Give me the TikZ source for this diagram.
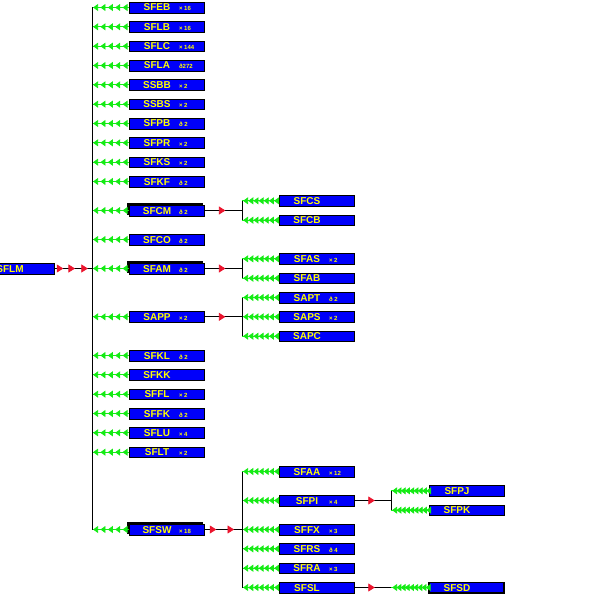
\documentclass[tikz,border=0pt]{standalone}
\usepackage{fontspec}
\setmainfont{Liberation Sans}
\usetikzlibrary{arrows.meta,decorations.markings,shadows}
\definecolor{callblue}{RGB}{0,0,250}
\definecolor{callyellow}{RGB}{255,255,0}
\definecolor{callgreen}{RGB}{20,235,20}
\definecolor{callred}{RGB}{235,20,45}
\newcommand{\rtn}[2]{\makebox[44pt]{#1}\makebox[19pt][l]{\fontsize{6}{6}\selectfont#2}}
\tikzset{
  routine/.style={draw=black, fill=callblue, text=callyellow, minimum width=75pt,
    minimum height=10.5pt, inner sep=0pt, text height=7pt, text depth=0pt,
    font=\bfseries\fontsize{10}{10}\selectfont},
  stacked/.style={copy shadow={shadow xshift=-2pt, shadow yshift=2pt, fill=black, draw=black}},
  trunk/.style={draw=black, line width=0.8pt},
  feed/.style 2 args={draw=callgreen, line width=0.8pt, postaction={decorate},
    decoration={markings, mark=between positions #1 and 1 step #2 with
      {\arrow{Triangle[length=5pt,width=7pt,color=callgreen,fill=callgreen]}}}},
  /pgf/decoration/redtip/.style={mark=at position #1 with
    {\arrow{Triangle[length=6.5pt,width=8pt,color=callred,fill=callred]}}},
  onecall/.style={trunk, postaction={decorate},
    decoration={markings, redtip=0.56}},
  twocalls/.style={trunk, postaction={decorate},
    decoration={markings, redtip=0.32, redtip=0.79}},
  threecalls/.style={trunk, postaction={decorate},
    decoration={markings, redtip=0.24, redtip=0.55, redtip=0.89}},
}
\begin{document}
\begin{tikzpicture}[x=1pt, y=-19.333pt]
  \useasboundingbox (0,-0.388) rectangle (591,30.543);
  \coordinate (c1) at (92,0);
  \coordinate (c2) at (242,0);
  \coordinate (c3) at (391,0);
  % caller
  \node[routine] (SFLM) at (16.5,13.5) {\hspace*{6pt}\rtn{SFLM}{}};
  % first level
  \foreach \n/\r/\a in {SFEB/0/× 16, SFLB/1/× 16, SFLC/2/× 144, SFLA/3/ð272,
      SSBB/4/× 2, SSBS/5/× 2, SFPB/6/ð 2, SFPR/7/× 2, SFKS/8/× 2, SFKF/9/ð 2,
      SFCO/12/ð 2, SAPP/16/× 2, SFKL/18/ð 2, SFKK/19/{}, SFFL/20/× 2,
      SFFK/21/ð 2, SFLU/22/× 4, SFLT/23/× 2} {
    \node[routine] (\n) at (166.5,\r) {\rtn{\n}{\a}};
  }
  \node[routine, stacked] (SFCM) at (166.5,10.5) {\rtn{SFCM}{ð 2}};
  \node[routine, stacked] (SFAM) at (166.5,13.5) {\rtn{SFAM}{ð 2}};
  \node[routine, stacked] (SFSW) at (166.5,27) {\rtn{SFSW}{× 18}};
  \foreach \n in {SFEB,SFLB,SFLC,SFLA,SSBB,SSBS,SFPB,SFPR,SFKS,SFKF,SFCM,SFCO,
      SFAM,SAPP,SFKL,SFKK,SFFL,SFFK,SFLU,SFLT,SFSW} {
    \draw[feed={0.17}{0.2}] (\n.west) -- (\n -| c1);
  }
  \draw[threecalls] (SFLM.east) -- (SFLM -| c1);
  \draw[trunk] (SFEB -| c1) -- (SFSW -| c1);
  % second level
  \foreach \n/\r/\a in {SFCS/10/{}, SFCB/11/{}, SFAS/13/× 2, SFAB/14/{},
      SAPT/15/ð 2, SAPS/16/× 2, SAPC/17/{}, SFAA/24/× 12, SFPI/25.5/× 4,
      SFFX/27/× 3, SFRS/28/ð 4, SFRA/29/× 3, SFSL/30/{}} {
    \node[routine] (\n) at (316.5,\r) {\rtn{\n}{\a}};
    \draw[feed={0.13}{0.14}] (\n.west) -- (\n -| c2);
  }
  \draw[onecall] (SFCM.east) -- (SFCM -| c2);
  \draw[trunk] (SFCS -| c2) -- (SFCB -| c2);
  \draw[onecall] (SFAM.east) -- (SFAM -| c2);
  \draw[trunk] (SFAS -| c2) -- (SFAB -| c2);
  \draw[onecall] (SAPP.east) -- (SAPP -| c2);
  \draw[trunk] (SAPT -| c2) -- (SAPC -| c2);
  \draw[twocalls] (SFSW.east) -- (SFSW -| c2);
  \draw[trunk] (SFAA -| c2) -- (SFSL -| c2);
  % third level
  \foreach \n/\r in {SFPJ/25, SFPK/26} {
    \node[routine] (\n) at (466.5,\r) {\rtn{\n}{}};
    \draw[feed={0.07}{0.1125}] (\n.west) -- (\n -| c3);
  }
  \node[routine, line width=1.5pt] (SFSD) at (466.5,30) {\rtn{SFSD}{}};
  \draw[feed={0.07}{0.1125}] (SFSD.west) -- (SFSD -| c3);
  \draw[onecall] (SFPI.east) -- (SFPI -| c3);
  \draw[trunk] (SFPJ -| c3) -- (SFPK -| c3);
  \draw[onecall] (SFSL.east) -- (SFSL -| c3);
\end{tikzpicture}
\end{document}
